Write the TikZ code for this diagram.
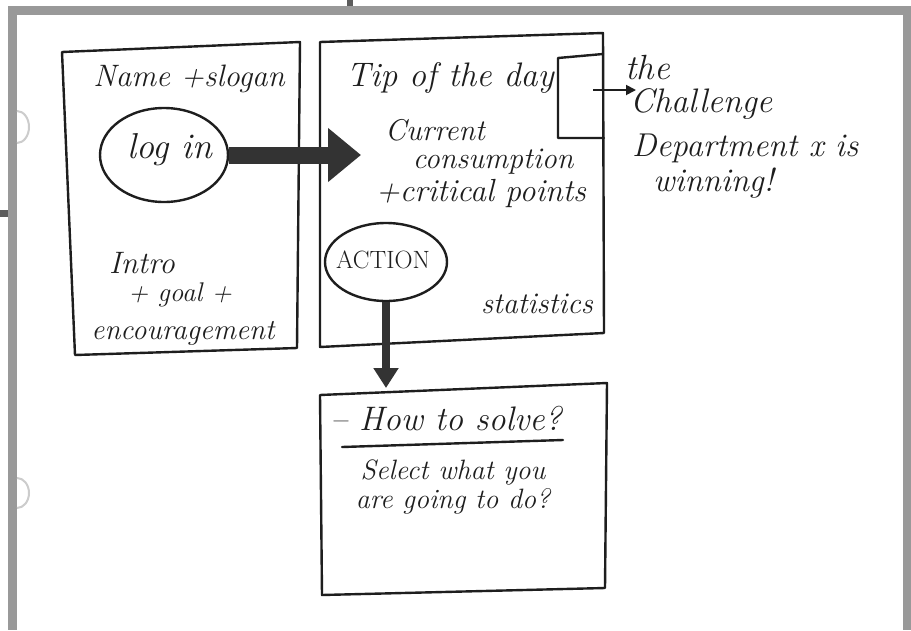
\documentclass[tikz,border=0pt]{standalone}
\usetikzlibrary{arrows.meta,shapes.geometric}
\definecolor{framegrey}{HTML}{999999}
\definecolor{ink}{HTML}{1E1E1E}
\definecolor{arrowink}{HTML}{333333}
\tikzset{
  sketch/.style={draw=ink,line width=2.4pt,line join=round,line cap=round},
  hand/.style={text=ink,font=\fontsize{#1}{#1}\selectfont\itshape,inner sep=0pt},
  hand/.default=30,
  bubble/.style={draw=ink,line width=2.4pt,ellipse,inner sep=0pt},
  fatarrow/.style={draw=arrowink,line width=17pt},
}
\begin{document}
\begin{tikzpicture}[x=1pt,y=-1pt]
\useasboundingbox (0,0) rectangle (911,630);
\fill[white] (0,0) rectangle (911,630);
% grey frame
\fill[framegrey] (8,6) rectangle (911,15);
\fill[framegrey] (8,6) rectangle (16.5,630);
\fill[framegrey] (903,6) rectangle (911,630);
\fill[arrowink!80] (347,0) rectangle (353,6);
\fill[arrowink!80] (0,210) rectangle (8,217);
\draw[black!20,line width=2pt] (17,111) arc[start angle=-90,end angle=90,x radius=12,y radius=16];
\draw[black!20,line width=2pt] (17,478) arc[start angle=-90,end angle=90,x radius=12,y radius=15];
% box 1
\coordinate (b1tl) at (62,52);
\coordinate (b1tr) at (300,42);
\coordinate (b1br) at (297,348);
\coordinate (b1bl) at (75,355);
\draw[sketch] (b1tl) -- (b1tr) -- (b1br) -- (b1bl) -- cycle;
% box 2
\coordinate (b2tl) at (320,42);
\coordinate (b2tr) at (603,33);
\coordinate (b2br) at (604,333);
\coordinate (b2bl) at (320,347);
\draw[sketch] (b2tl) -- (b2tr) -- (b2br) -- (b2bl) -- cycle;
% challenge tab
\coordinate (t1) at (603,54);
\coordinate (t2) at (558,58);
\coordinate (t3) at (558,138);
\coordinate (t4) at (604,138);
\draw[sketch] (t1) -- (t2) -- (t3) -- (t4);
% box 3
\coordinate (b3tl) at (320,395);
\coordinate (b3tr) at (607,383);
\coordinate (b3br) at (605,588);
\coordinate (b3bl) at (322,595);
\draw[sketch] (b3tl) -- (b3tr) -- (b3br) -- (b3bl) -- cycle;
% texts box 1
\node[hand=31] (name) at (189,79) {Name +slogan};
\node[bubble,minimum width=128pt,minimum height=94pt] (login) at (164,155) {};
\node[hand=36] (logintxt) at (170,150) {log in};
\node[hand=31] (intro) at (142,263) {Intro};
\node[hand=27] (goal) at (180,295) {+ goal +};
\node[hand=29] (enc) at (183,333) {encouragement};
% texts box 2
\node[hand=34] (tip) at (450,78) {Tip of the day};
\node[hand=30] (cur) at (435,130) {Current};
\node[hand=30] (cons) at (493,162) {consumption};
\node[hand=32] (crit) at (481,193) {+critical points};
\node[bubble,minimum width=122pt,minimum height=78pt] (action) at (386,262) {};
\node[text=ink,font=\fontsize{25}{25}\selectfont,inner sep=0pt] (actiontxt) at (383,260) {ACTION};
\node[hand=30] (stat) at (537,304) {statistics};
% challenge text
\node[hand=35,anchor=west] (the) at (625,68) {the};
\node[hand=34,anchor=west] (chal) at (630,104) {Challenge};
\node[hand=33,anchor=west] (dept) at (632,148) {Department x is};
\node[hand=33,anchor=west] (win) at (653,183) {winning!};
% box 3 text
\node[hand=34] (how) at (446,419) {-- How to solve?};
\coordinate (u1) at (342,447);
\coordinate (u2) at (563,440);
\draw[sketch] (u1) -- (u2);
\node[hand=28] (sel) at (453,472) {Select what you};
\node[hand=28] (go) at (453,501) {are going to do?};
% connectors
\coordinate (bigtip) at (361,155);
\draw[fatarrow,-{Triangle[length=33pt,width=52pt]}] (login.east) -- (bigtip);
\coordinate (acttip) at (386,388);
\draw[draw=arrowink,line width=8pt,-{Triangle[length=20pt,width=24pt]}] (action.south) -- (acttip);
\coordinate (chaltip) at (636,90);
\draw[draw=ink,line width=1.8pt,-{Triangle[length=10pt,width=10pt]}] (593,90) -- (chaltip);
\end{tikzpicture}
\end{document}
